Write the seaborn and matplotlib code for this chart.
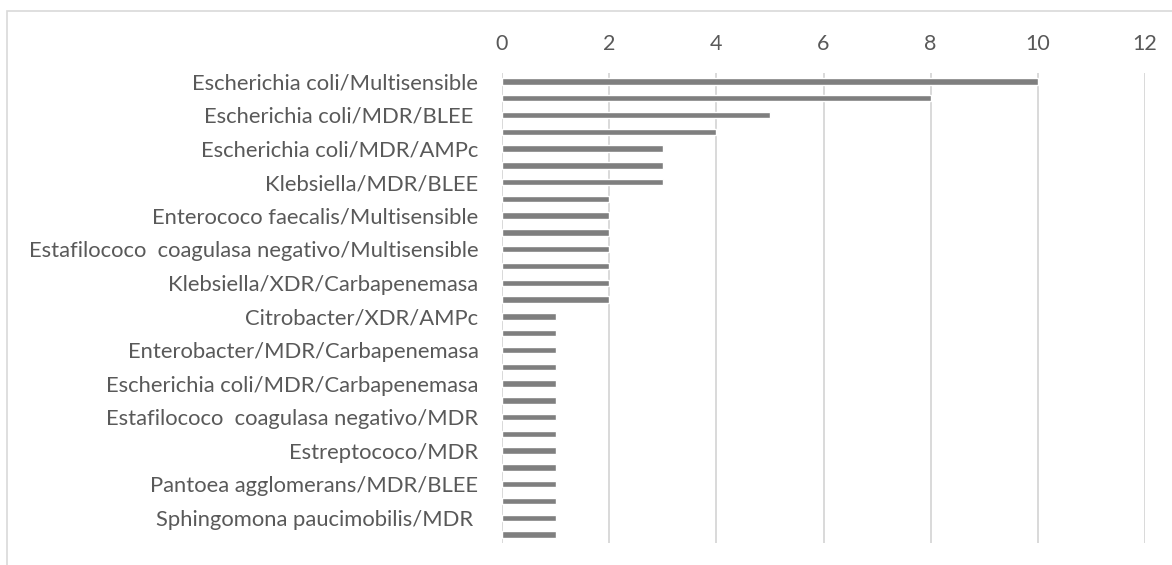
import matplotlib
matplotlib.use("Agg")
import matplotlib.pyplot as plt
from matplotlib.patches import Rectangle
import seaborn as sns

# Isolates per microorganism / resistance profile (one bar per category, top to bottom)
counts = [10, 8, 5, 4, 3, 3, 3,
          2, 2, 2, 2, 2, 2, 2,
          1, 1, 1, 1, 1, 1, 1, 1, 1, 1, 1, 1, 1, 1]

# Category axis shows a label on every second bar
tick_labels = [
    "Escherichia coli/Multisensible",
    "Escherichia coli/MDR/BLEE ",
    "Escherichia coli/MDR/AMPc",
    "Klebsiella/MDR/BLEE",
    "Enterococo faecalis/Multisensible",
    "Estafilococo  coagulasa negativo/Multisensible",
    "Klebsiella/XDR/Carbapenemasa",
    "Citrobacter/XDR/AMPc",
    "Enterobacter/MDR/Carbapenemasa",
    "Escherichia coli/MDR/Carbapenemasa",
    "Estafilococo  coagulasa negativo/MDR",
    "Estreptococo/MDR",
    "Pantoea agglomerans/MDR/BLEE",
    "Sphingomona paucimobilis/MDR ",
]
x_ticks = [0, 2, 4, 6, 8, 10, 12]

sns.set_style("white")
plt.rcParams["font.family"] = ["Lato", "DejaVu Sans"]

W, H = 1172, 565
fig = plt.figure(figsize=(W / 100, H / 100), dpi=100)
ax = fig.add_axes([502 / W, 1 - 543 / H, (1145 - 502) / W, (543 - 73) / H])

positions = list(range(len(counts)))
sns.barplot(x=counts, y=positions, orient="h", color="#7f7f7f",
            saturation=1, width=0.38, ax=ax, zorder=3)

ax.set_xlim(0, 12)
ax.set_ylim(len(counts) - 0.5, -0.5)
ax.set_xticks(x_ticks)
ax.set_xticklabels([str(t) for t in x_ticks])
ax.xaxis.tick_top()
ax.set_yticks(positions[::2])
ax.set_yticklabels(tick_labels)
ax.set_xlabel("")
ax.set_ylabel("")

ax.grid(axis="x", color="#d9d9d9", linewidth=1.4, zorder=0)
ax.grid(axis="y", visible=False)
for s in ax.spines.values():
    s.set_visible(False)

ax.tick_params(axis="x", length=0, pad=14, labelsize=15.5, labelcolor="#595959")
ax.tick_params(axis="y", length=0, pad=17, labelsize=15.8, labelcolor="#595959")

# Chart frame
fig.patches.append(Rectangle((7 / W, -0.1), 1.2, 1 - 11 / H + 0.1,
                             transform=fig.transFigure, fill=False,
                             edgecolor="#d9d9d9", linewidth=1.2))

fig.savefig("out.png", dpi=100)
